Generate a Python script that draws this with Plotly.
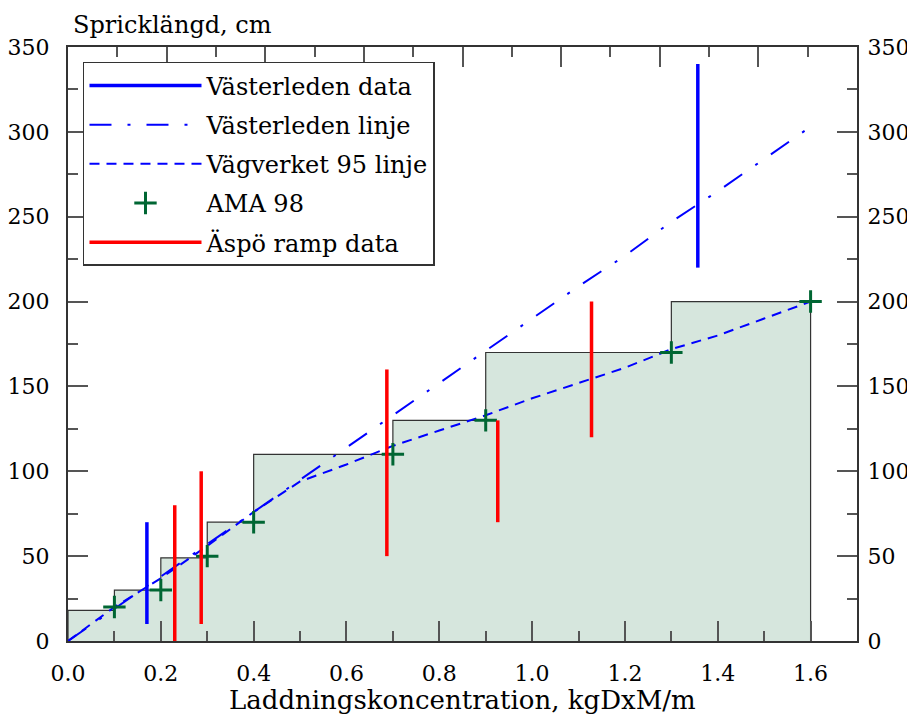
import plotly.graph_objects as go

# ---- data ----
bin_edges = [0.0, 0.1, 0.2, 0.3, 0.4, 0.7, 0.9, 1.3, 1.6]
bin_heights = [18, 30, 49, 70, 110, 130, 170, 200]

ama_x = [0.1, 0.2, 0.3, 0.4, 0.7, 0.9, 1.3, 1.6]
ama_y = [20, 30, 50, 70, 110, 130, 170, 200]

vag_x = [0.0, 0.1, 0.2, 0.3, 0.4, 0.5, 0.6, 0.7, 0.8, 0.9, 1.0, 1.1, 1.2, 1.3, 1.4, 1.5, 1.6]
vag_y = [0, 20, 37, 56, 76, 94, 104, 115, 124, 133, 143, 152, 161, 172, 180, 190, 200]

vl_x = [0.0, 0.1, 0.2, 0.3, 0.4, 0.5, 0.6, 0.7, 0.8, 0.9, 1.0, 1.1, 1.2, 1.3, 1.4, 1.5, 1.6]
vl_y = [0, 19, 38, 57, 76, 95, 114, 133, 152, 171, 190, 209, 227, 247, 265, 284, 303]

vd_x = [0.17, 1.357]
vd_lo = [10, 220]
vd_hi = [70, 340]

aspo_x = [0.23, 0.287, 0.687, 0.926, 1.128]
aspo_lo = [0, 10, 50, 70, 120]
aspo_hi = [80, 100, 160, 130, 200]

FONT = "DejaVu Serif"
FS = 22


def segs(xs, lo, hi):
    X, Y = [], []
    for x, a, b in zip(xs, lo, hi):
        X += [x, x, None]
        Y += [a, b, None]
    return X, Y


# step outline with fill
step_x = [bin_edges[0]] + bin_edges[:-1] + [bin_edges[-1], bin_edges[-1]]
step_y = [0] + bin_heights + [bin_heights[-1], 0]

fig = go.Figure()
fig.add_trace(go.Scatter(
    x=step_x, y=step_y, mode="lines", line=dict(shape="hv", color="#333333", width=1.2),
    fill="tozeroy", fillcolor="#d6e6dd", showlegend=False, hoverinfo="skip"))

fig.add_trace(go.Scatter(
    x=vl_x, y=vl_y, mode="lines", name="Västerleden linje",
    line=dict(color="#0000ff", width=2, dash="22px,16px,3px,16px"),
    legendrank=2, legendgroup="b"))

fig.add_trace(go.Scatter(
    x=vag_x, y=vag_y, mode="lines", name="Vägverket 95 linje",
    line=dict(color="#0000ff", width=2, dash="10px,7px"),
    legendrank=3, legendgroup="c"))

fig.add_trace(go.Scatter(
    x=ama_x, y=ama_y, mode="markers", name="AMA 98",
    marker=dict(symbol="cross-thin", size=16, line=dict(color="#006633", width=3), color="#006633"),
    legendrank=4, legendgroup="d"))

vx, vy = segs(vd_x, vd_lo, vd_hi)
fig.add_trace(go.Scatter(
    x=vx, y=vy, mode="lines", name="Västerleden data",
    line=dict(color="#0000ff", width=3.5), legendrank=1, legendgroup="a"))

ax_, ay_ = segs(aspo_x, aspo_lo, aspo_hi)
fig.add_trace(go.Scatter(
    x=ax_, y=ay_, mode="lines", name="Äspö ramp data",
    line=dict(color="#ff0000", width=3.5), legendrank=5, legendgroup="e"))

# helper trace to materialize the top/right axes
fig.add_trace(go.Scatter(x=[None], y=[None], xaxis="x2", yaxis="y2",
                         showlegend=False, hoverinfo="skip"))

axis_common = dict(showgrid=False, zeroline=False, showline=True, linecolor="#333333",
                   linewidth=2, ticks="inside", ticklen=20, tickwidth=2, tickcolor="#555555",
                   automargin=False,
                   tickfont=dict(family=FONT, size=FS, color="black"))

# page body has an 8px margin: figure is sized/offset so the plot box lands at the reference pixels
fig.update_layout(
    width=907, height=707,
    margin=dict(l=60, r=58, t=39, b=74, autoexpand=False),
    paper_bgcolor="white", plot_bgcolor="white",
    font=dict(family=FONT, size=FS, color="black"),
    xaxis=dict(range=[0, 1.7], dtick=0.2, tick0=0, tickformat=".1f",
               minor=dict(ticks="inside", ticklen=10, dtick=0.1, tickcolor="#555555", tickwidth=2),
               ticklabelstandoff=12, **axis_common),
    yaxis=dict(range=[0, 350], dtick=50, tick0=0,
               minor=dict(ticks="inside", ticklen=10, dtick=25, tickcolor="#555555", tickwidth=2),
               ticklabelstandoff=12, **axis_common),
    xaxis2=dict(range=[0, 1.6], dtick=0.2, tick0=0, overlaying="x", side="top", anchor="y2",
                showticklabels=False,
                minor=dict(ticks="inside", ticklen=10, dtick=0.1, tickcolor="#555555", tickwidth=2),
                **axis_common),
    yaxis2=dict(range=[0, 350], dtick=50, tick0=0, overlaying="y", side="right", anchor="x2",
                minor=dict(ticks="inside", ticklen=10, dtick=25, tickcolor="#555555", tickwidth=2),
                ticklabelstandoff=4, **axis_common),
    legend=dict(x=0.019, y=0.975, xanchor="left", yanchor="top",
                bgcolor="white", bordercolor="#333333", borderwidth=1.5,
                font=dict(family=FONT, size=24, color="black"),
                tracegroupgap=5, itemwidth=112),
    showlegend=True,
    annotations=[
        dict(text="Spricklängd, cm", xref="paper", yref="paper", x=0, y=1,
             xanchor="left", yanchor="bottom", xshift=3, yshift=6, showarrow=False,
             font=dict(family=FONT, size=24, color="black")),
        dict(text="Laddningskoncentration, kgDxM/m", xref="paper", yref="paper", x=0.5, y=0,
             xanchor="center", yanchor="top", yshift=-42, showarrow=False,
             font=dict(family=FONT, size=26, color="black")),
    ],
)

fig.write_html("out.html")
